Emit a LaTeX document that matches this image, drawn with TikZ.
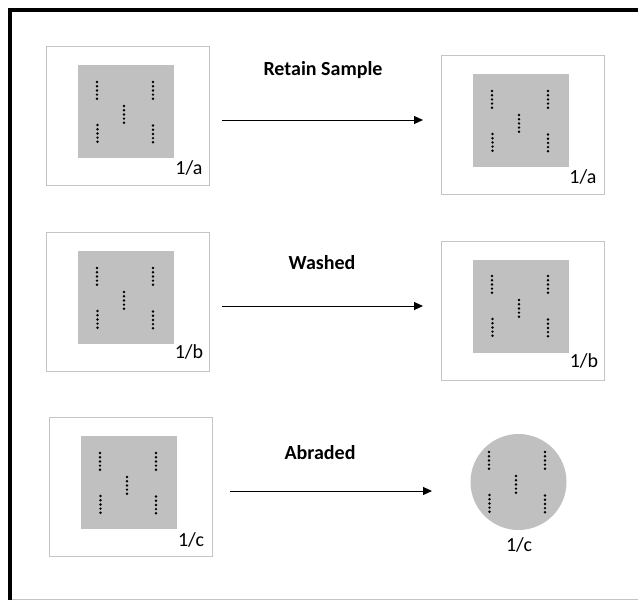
\documentclass[tikz,border=0pt]{standalone}
\usepackage{fontspec}
\setmainfont{Carlito}
\usetikzlibrary{arrows.meta}
\definecolor{sgray}{HTML}{C0C0C0}
\definecolor{fgray}{HTML}{C4C4C4}
\begin{document}
\begin{tikzpicture}[x=1pt,y=-1pt,
  holder/.style={draw=fgray, line width=0.9pt, fill=white, minimum width=163pt, minimum height=139pt, inner sep=0},
  sample/.style={fill=sgray, draw=none, minimum width=96pt, minimum height=93pt, inner sep=0},
  disc/.style={circle, fill=sgray, draw=none, minimum size=96pt, inner sep=0},
  lab/.style={font=\fontsize{20}{20}\selectfont, inner sep=0},
  ttl/.style={font=\bfseries\fontsize{20}{20}\selectfont, inner sep=0},
  arr/.style={-{Triangle[length=9pt,width=8pt]}, line width=1pt},
  dots/.pic={
    \foreach \px/\py in {19/17, 75/17, 46/41, 19.5/60, 75/60.5}{
      \foreach \k in {0,...,4}{\fill (\px,\py+\k*4.2) circle (1.35);}
    }
  }]
\useasboundingbox (0,0) rectangle (638,600);
% frame
\draw[line width=4pt] (9.5,600) -- (9.5,9.5) -- (638,9.5);
\draw[fgray, line width=0.8pt] (11.5,599) -- (638,599);

% row 1
\node[holder] (h1l) at (127.5,115.5) {};
\node[sample] (s1l) at (126,111.5) {};
\pic at (78,65) {dots};
\node[lab] (l1l) at (189,168) {1/a};
\node[holder] (h1r) at (523,124.5) {};
\node[sample] (s1r) at (521,120.5) {};
\pic at (473,74) {dots};
\node[lab] (l1r) at (583,177) {1/a};
\node[ttl] (t1) at (323,70) {Retain Sample};
\coordinate (a1s) at (222,120);
\coordinate (a1e) at (423,120);
\draw[arr] (a1s) -- (a1e);

% row 2
\node[holder] (h2l) at (127.5,301.5) {};
\node[sample] (s2l) at (126,297) {};
\pic at (78,251) {dots};
\node[lab] (l2l) at (189,352) {1/b};
\node[holder] (h2r) at (523,310.5) {};
\node[sample] (s2r) at (521,306) {};
\pic at (473,259) {dots};
\node[lab] (l2r) at (584,361) {1/b};
\node[ttl] (t2) at (322,263) {Washed};
\coordinate (a2s) at (222,306);
\coordinate (a2e) at (423,306);
\draw[arr] (a2s) -- (a2e);

% row 3
\node[holder] (h3l) at (130.5,486.5) {};
\node[sample] (s3l) at (129,482) {};
\pic at (81,436) {dots};
\node[lab] (l3l) at (191,540) {1/c};
\node[disc] (d3r) at (518.5,482) {};
\pic at (470,435) {dots};
\node[lab] (l3r) at (519,545) {1/c};
\node[ttl] (t3) at (320,453) {Abraded};
\coordinate (a3s) at (230,491);
\coordinate (a3e) at (432,491);
\draw[arr] (a3s) -- (a3e);
\end{tikzpicture}
\end{document}
